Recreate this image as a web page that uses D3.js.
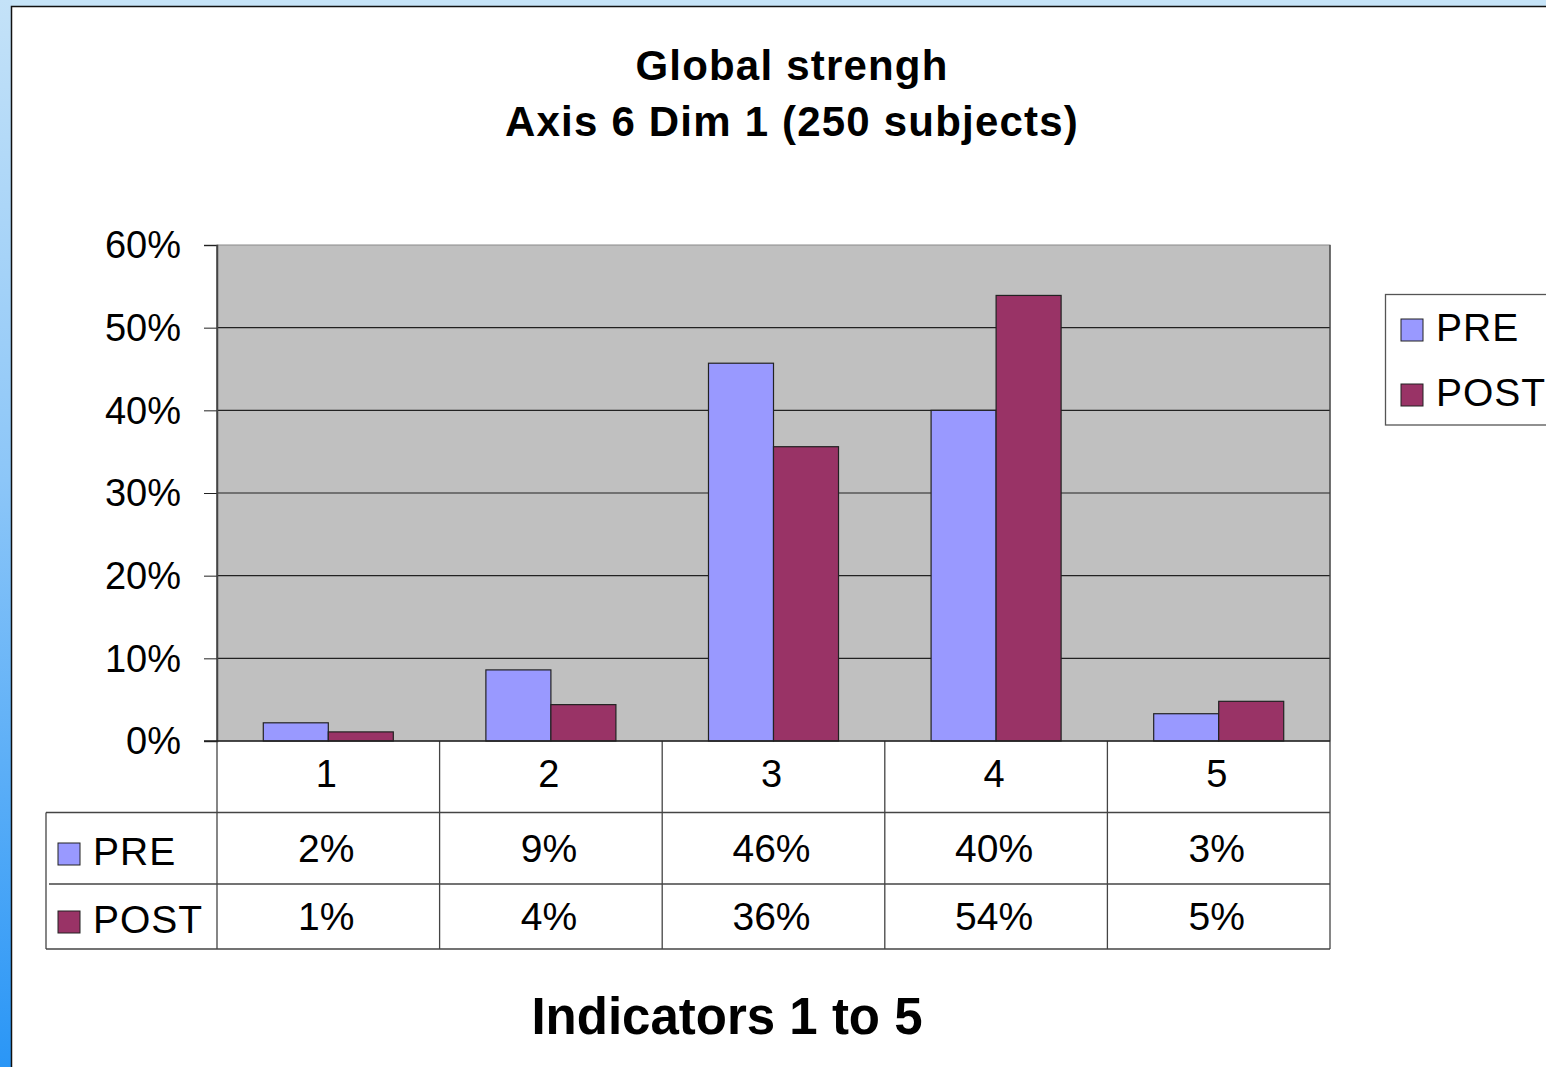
<!DOCTYPE html>
<html>
<head>
<meta charset="utf-8">
<script src="https://cdn.jsdelivr.net/npm/d3@7"></script>
<style>
  body { margin: 0; background: #fff; }
  svg text { font-family: "Liberation Sans", Arial, sans-serif; fill: #000; }
</style>
</head>
<body>
<div id="chart"></div>
<script>
// data
const categories = ["1", "2", "3", "4", "5"];
const series = ["PRE", "POST"];
const preValues = [0.022, 0.086, 0.457, 0.400, 0.033];
const postValues = [0.011, 0.044, 0.356, 0.539, 0.048];
const yTicks = [0, 0.1, 0.2, 0.3, 0.4, 0.5, 0.6];
const titleLines = ["Global strengh", "Axis 6 Dim 1 (250 subjects)"];
const axisTitle = "Indicators 1 to 5";

const colors = { PRE: "#9999ff", POST: "#993366" };
const values = { PRE: preValues, POST: postValues };

const W = 1546, H = 1067;
const plot = { left: 217, right: 1330, top: 245, bottom: 741 };
const rowTop = 812.5, rowMid = 884, rowBottom = 949, tableLeft = 46;

const svg = d3.select("#chart")
    .append("svg")
    .attr("width", W)
    .attr("height", H);

// fond bleu de la diapo
const defs = svg.append("defs");
const grad = defs.append("linearGradient")
    .attr("id", "side")
    .attr("x1", 0).attr("y1", 0).attr("x2", 0).attr("y2", 1);
grad.append("stop").attr("offset", "0%").attr("stop-color", "#c4e2f8");
grad.append("stop").attr("offset", "45%").attr("stop-color", "#8cc6f8");
grad.append("stop").attr("offset", "100%").attr("stop-color", "#2a96f6");

svg.append("rect").attr("x", 0).attr("y", 0).attr("width", W).attr("height", H).attr("fill", "#c6e4f8");
svg.append("rect").attr("x", 0).attr("y", 0).attr("width", 12).attr("height", H).attr("fill", "url(#side)");
svg.append("rect")
    .attr("x", 11.5).attr("y", 6.5)
    .attr("width", W).attr("height", H)
    .attr("fill", "#fff")
    .attr("stroke", "#111")
    .attr("stroke-width", 1.5);

// titre
svg.append("g")
    .selectAll("text")
    .data(titleLines)
    .enter()
    .append("text")
    .attr("x", 792)
    .attr("y", (d, i) => 80 + i * 56)
    .attr("text-anchor", "middle")
    .style("font-size", "42px")
    .style("font-weight", "bold")
    .style("letter-spacing", "1.2px")
    .text(d => d);

// echelles
const x = d3.scaleBand()
    .domain(categories)
    .range([plot.left, plot.right]);

const xSub = d3.scaleBand()
    .domain(series)
    .range([0, x.bandwidth()])
    .paddingOuter(0.712);

const y = d3.scaleLinear()
    .domain([0, 0.6])
    .range([plot.bottom, plot.top]);

// zone grise
svg.append("rect")
    .attr("x", plot.left).attr("y", plot.top)
    .attr("width", plot.right - plot.left)
    .attr("height", plot.bottom - plot.top)
    .attr("fill", "#c0c0c0")
    .attr("stroke", "#8a8a8a")
    .attr("stroke-width", 1);

// lignes de grille
svg.append("g")
    .selectAll("line")
    .data(yTicks.filter(t => t > 0 && t < 0.6))
    .enter()
    .append("line")
    .attr("x1", plot.left).attr("x2", plot.right)
    .attr("y1", d => y(d)).attr("y2", d => y(d))
    .attr("stroke", "#222")
    .attr("stroke-width", 1.2);

// barres
const groups = svg.append("g")
    .selectAll("g")
    .data(series)
    .enter()
    .append("g")
    .attr("fill", d => colors[d]);

groups.selectAll("rect")
    .data(s => values[s].map((v, i) => ({ s, v, c: categories[i] })))
    .enter()
    .append("rect")
    .attr("x", d => x(d.c) + xSub(d.s))
    .attr("y", d => y(d.v))
    .attr("width", xSub.bandwidth())
    .attr("height", d => y(0) - y(d.v))
    .attr("stroke", "#222")
    .attr("stroke-width", 1.2);

// axe Y
const yAxis = svg.append("g")
    .attr("transform", `translate(${plot.left},0)`)
    .call(d3.axisLeft(y).tickValues(yTicks).tickFormat(d3.format(".0%")).tickSize(13).tickPadding(23));
yAxis.select(".domain").attr("stroke", "#444").attr("stroke-width", 1.5);
yAxis.selectAll(".tick line").attr("stroke", "#222");
yAxis.selectAll(".tick text")
    .style("font-size", "38px")
    .attr("font-family", null)
    .attr("dy", "0.34em");

// tableau de donnees
const table = svg.append("g").attr("stroke", "#444").attr("stroke-width", 1.3);

const vlines = categories.map(c => x(c)).concat(plot.right);
table.selectAll(".v")
    .data(vlines)
    .enter()
    .append("line")
    .attr("x1", d => d).attr("x2", d => d)
    .attr("y1", (d, i) => (i === 0 || i === vlines.length - 1) ? plot.top : plot.bottom)
    .attr("y2", rowBottom);

table.append("line").attr("x1", plot.left - 13).attr("x2", plot.right).attr("y1", plot.bottom).attr("y2", plot.bottom).attr("stroke", "#222");
table.append("line").attr("x1", tableLeft).attr("x2", plot.right).attr("y1", rowTop).attr("y2", rowTop);
table.append("line").attr("x1", tableLeft + 3).attr("x2", plot.right).attr("y1", rowMid).attr("y2", rowMid);
table.append("line").attr("x1", tableLeft).attr("x2", plot.right).attr("y1", rowBottom).attr("y2", rowBottom);
table.append("line").attr("x1", tableLeft).attr("x2", tableLeft).attr("y1", rowTop).attr("y2", rowBottom);

// libelles des categories
svg.append("g")
    .selectAll("text")
    .data(categories)
    .enter()
    .append("text")
    .attr("x", d => x(d) + x.bandwidth() / 2 - 2)
    .attr("y", 787)
    .attr("text-anchor", "middle")
    .style("font-size", "38px")
    .text(d => d);

const rowBase = { PRE: 862, POST: 930 };
const fmt = d3.format(".0%");

series.forEach(s => {
    const row = svg.append("g");
    row.append("rect")
        .attr("x", 58).attr("y", rowBase[s] - 19)
        .attr("width", 22).attr("height", 22)
        .attr("fill", colors[s])
        .attr("stroke", "#222").attr("stroke-width", 1);
    row.append("text")
        .attr("x", 93).attr("y", rowBase[s] + 3)
        .style("font-size", "39px")
        .style("letter-spacing", "1px")
        .text(s);
    row.selectAll(".val")
        .data(values[s])
        .enter()
        .append("text")
        .attr("x", (d, i) => x(categories[i]) + x.bandwidth() / 2 - 2)
        .attr("y", rowBase[s])
        .attr("text-anchor", "middle")
        .style("font-size", "39px")
        .text(d => fmt(d));
});

// legende a droite
const legend = svg.append("g");
legend.append("rect")
    .attr("x", 1385.5).attr("y", 294.5)
    .attr("width", 200).attr("height", 130.5)
    .attr("fill", "#fff")
    .attr("stroke", "#555").attr("stroke-width", 1.3);

const legItems = legend.selectAll(".item")
    .data(series)
    .enter()
    .append("g")
    .attr("transform", (d, i) => `translate(1401,${319 + i * 65})`);
legItems.append("rect")
    .attr("width", 22).attr("height", 22)
    .attr("fill", d => colors[d])
    .attr("stroke", "#222").attr("stroke-width", 1);
legItems.append("text")
    .attr("x", 35).attr("y", 22)
    .style("font-size", "39px")
    .style("letter-spacing", "1px")
    .text(d => d);

// titre de l'axe
svg.append("text")
    .attr("x", 727)
    .attr("y", 1034)
    .attr("text-anchor", "middle")
    .style("font-size", "51px")
    .style("font-weight", "bold")
    .text(axisTitle);
</script>
</body>
</html>
